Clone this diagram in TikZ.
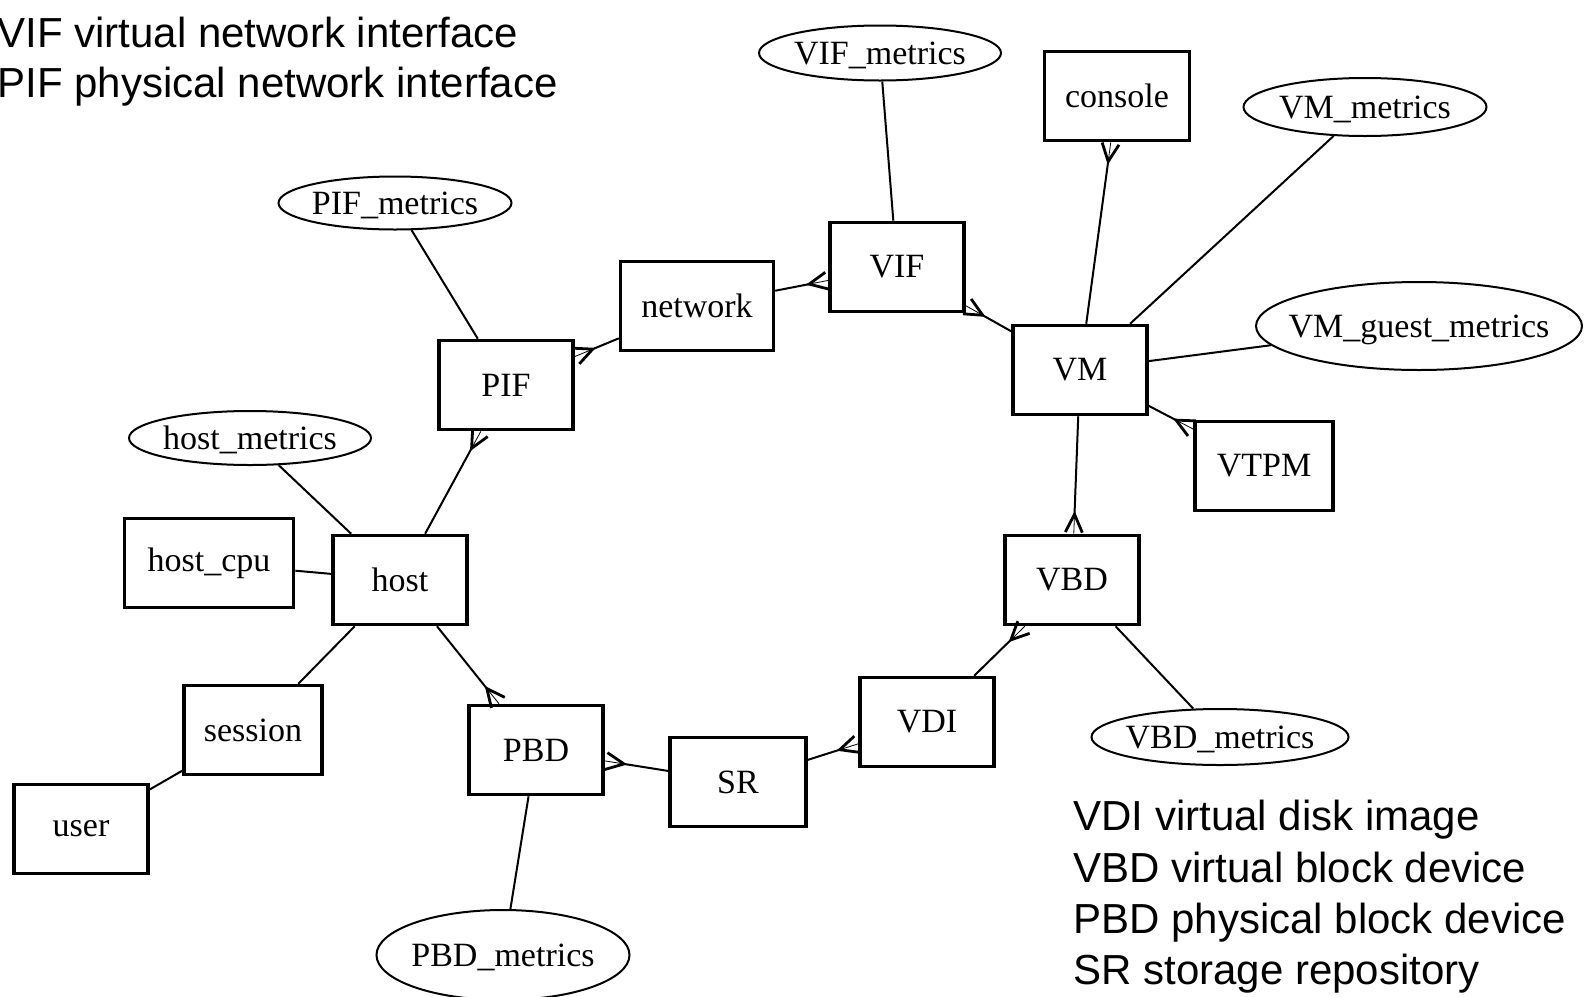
\documentclass[tikz,border=0pt]{standalone}
\usepackage{fontspec}
\setmainfont{Liberation Serif}
\setsansfont{Liberation Sans}
\usetikzlibrary{arrows.meta,shapes.geometric}

\begin{document}
\begin{tikzpicture}[x=0.5pt, y=-0.5pt,
  box/.style={draw, line width=1.8pt, inner xsep=10pt, inner ysep=0pt,
    minimum width=67pt, minimum height=44.5pt, font=\fontsize{17}{20}\selectfont},
  metric/.style={draw, ellipse, line width=1pt, inner sep=0pt, text depth=0pt, font=\fontsize{17}{20}\selectfont,
    execute at begin node={\hbox to 0pt\bgroup\hss}, execute at end node={\hss\egroup}},
  link/.style={line width=1pt},
  crow/.style={link, preaction={draw, arrows=-},
    -{Straight Barb[reversed, length=9pt, width=8.5pt, line width=1.4pt]}},
  legend/.style={font=\sffamily\fontsize{21}{25}\selectfont, align=left, inner sep=0pt, anchor=north west}]
  \useasboundingbox (0,0) rectangle (1585,996);

  % legends
  \node[legend] (netlegend) at (-3,17) {VIF virtual network interface\\PIF physical network interface};
  \node[legend, font=\sffamily\fontsize{21}{25.6}\selectfont] (disklegend) at (1073,800)
    {VDI virtual disk image\\VBD virtual block device\\PBD physical block device\\SR storage repository};

  % objects
  \node[metric, minimum width=121pt, minimum height=27.5pt] (vifm) at (880,53) {VIF\_metrics};
  \node[box, minimum width=72.5pt] (console) at (1117,96) {console};
  \node[metric, minimum width=121.5pt, minimum height=29pt] (vmm) at (1365,107) {VM\_metrics};
  \node[metric, minimum width=116.5pt, minimum height=26.5pt] (pifm) at (395,203) {PIF\_metrics};
  \node[box] (vif) at (897,267) {VIF};
  \node[box, minimum width=76.5pt] (network) at (697,306) {network};
  \node[metric, minimum width=163pt, minimum height=44pt] (vmgm) at (1419,326) {VM\_guest\_metrics};
  \node[box] (vm) at (1080,370) {VM};
  \node[box] (pif) at (506,385) {PIF};
  \node[metric, minimum width=121pt, minimum height=27pt] (hostm) at (250,438) {host\_metrics};
  \node[box, minimum width=69pt] (vtpm) at (1264,466) {VTPM};
  \node[box, minimum width=84.5pt] (hostcpu) at (209,563) {host\_cpu};
  \node[box] (host) at (400,580) {host};
  \node[box] (vbd) at (1072,580) {VBD};
  \node[box, minimum width=69pt] (session) at (253,730) {session};
  \node[box] (vdi) at (927,722) {VDI};
  \node[metric, minimum width=128.5pt, minimum height=28pt] (vbdm) at (1220,737) {VBD\_metrics};
  \node[box] (pbd) at (536,750) {PBD};
  \node[box, minimum width=68pt] (sr) at (738,782) {SR};
  \node[box] (user) at (81,829) {user};
  \node[metric, minimum width=126.5pt, minimum height=45pt] (pbdm) at (503,955) {PBD\_metrics};

  % references (crow's foot at the many side)
  \draw[crow] (network) -- (pif);
  \draw[crow] (network) -- (vif);
  \draw[crow] (vm) -- (vif);
  \draw[crow] (vm) -- (vbd);
  \draw[crow] (vdi) -- (vbd);
  \draw[crow] (sr) -- (vdi);
  \draw[crow] (sr) -- (pbd);
  \draw[crow] (host) -- (pbd);
  \draw[crow] (host) -- (pif);
  \draw[crow] (vm) -- (console);
  \draw[crow] (vm) -- (vtpm);

  % plain links
  \draw[link] (vifm) -- (vif);
  \draw[link] (vmm) -- (vm);
  \draw[link] (vmgm) -- (vm);
  \draw[link] (pifm) -- (pif);
  \draw[link] (hostm) -- (host);
  \draw[link] (hostcpu) -- (host);
  \draw[link] (session) -- (host);
  \draw[link] (user) -- (session);
  \draw[link] (pbdm) -- (pbd);
  \draw[link] (vbdm) -- (vbd);
\end{tikzpicture}
\end{document}
